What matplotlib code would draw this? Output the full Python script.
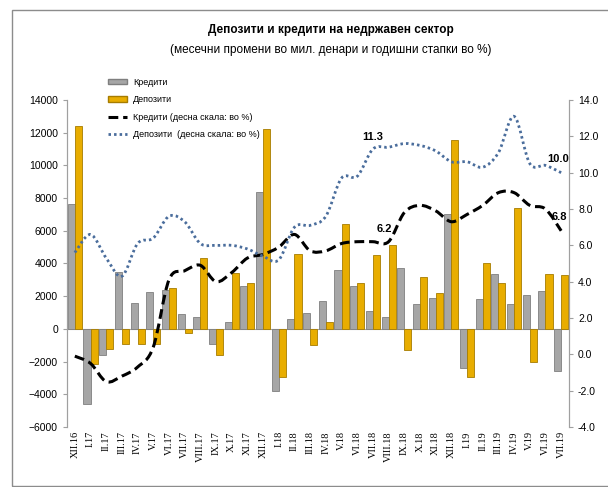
import matplotlib
matplotlib.use("Agg")
import matplotlib.pyplot as plt
import numpy as np
from matplotlib.patches import Patch, Rectangle, PathPatch
from matplotlib.lines import Line2D
from matplotlib.path import Path

plt.rcParams['font.family'] = ['Liberation Sans Narrow', 'Liberation Sans', 'DejaVu Sans']

months = ["XII.16", "I.17", "II.17", "III.17", "IV.17", "V.17", "VI.17", "VII.17",
          "VIII.17", "IX.17", "X.17", "XI.17", "XII.17", "I.18", "II.18", "III.18",
          "IV.18", "V.18", "VI.18", "VII.18", "VIII.18", "IX.18", "X.18", "XI.18",
          "XII.18", "I.19", "II.19", "III.19", "IV.19", "V.19", "VI.19", "VII.19"]

# monthly changes, mil. denars (left scale)
loans_chg = [7650, -4600, -1600, 3450, 1600, 2250, 2400, 900,
             700, -950, 450, 2650, 8350, -3800, 600, 950,
             1700, 3600, 2650, 1100, 700, 3700, 1550, 1900,
             7050, -2400, 1800, 3350, 1550, 2050, 2300, -2600]
deposits_chg = [12400, -2150, -1200, -900, -950, -900, 2500, -250,
                4350, -1600, 3400, 2800, 12200, -2950, 4600, -1000,
                450, 6400, 2800, 4500, 5150, -1300, 3150, 2200,
                11550, -2950, 4050, 2780, 7400, -2000, 3350, 3300]

# annual growth rates, % (right scale)
loans_yoy = [-0.1, -0.5, -1.5, -1.2, -0.7, 0.4, 4.1, 4.6,
             4.9, 4.0, 4.5, 5.3, 5.5, 5.9, 6.6, 5.7,
             5.7, 6.1, 6.2, 6.2, 6.2, 7.8, 8.2, 7.9,
             7.3, 7.7, 8.2, 8.9, 8.9, 8.2, 8.0, 6.8]
deposits_yoy = [5.6, 6.6, 5.3, 4.3, 6.1, 6.4, 7.6, 7.3,
                6.1, 6.0, 6.0, 5.8, 5.4, 5.2, 7.0, 7.1,
                7.6, 9.7, 9.8, 11.3, 11.4, 11.6, 11.5, 11.2,
                10.6, 10.6, 10.3, 11.1, 13.1, 10.5, 10.4, 10.0]

grey = "#a6a6a6"
gold = "#e8ad00"
blue = "#4a6d9c"
loan_dash = (0, (3.2, 1.6))
dep_dot = (0, (0.9, 1.1))


def smooth_path(xs, ys):
    # Excel-style smoothed line: bezier segments passing through the data points
    pts = np.column_stack([xs, ys]).astype(float)
    n = len(pts)
    verts = [pts[0]]
    codes = [Path.MOVETO]
    for i in range(n - 1):
        p0 = pts[max(i - 1, 0)]
        p1 = pts[i]
        p2 = pts[i + 1]
        p3 = pts[min(i + 2, n - 1)]
        verts += [p1 + (p2 - p0) / 6, p2 - (p3 - p1) / 6, p2]
        codes += [Path.CURVE4] * 3
    return Path(verts, codes)


fig = plt.figure(figsize=(6.08, 4.87), dpi=100)
ax = fig.add_axes([67 / 608, 1 - 427 / 487, 502 / 608, 327 / 487])
ax2 = ax.twinx()

x = np.arange(len(months))
w = 0.45
ax.bar(x - w / 2, loans_chg, w, color=grey, edgecolor="#7f7f7f", linewidth=0.6, zorder=2)
ax.bar(x + w / 2, deposits_chg, w, color=gold, edgecolor="#a67c00", linewidth=0.6, zorder=2)
ax.axhline(0, color="#a0a0a0", linewidth=0.8, zorder=1)

ax.set_xlim(-0.5, len(months) - 0.5)
ax.set_ylim(-6000, 14000)
ax.set_yticks(range(-6000, 14001, 2000))
ax.set_xticks(x)
ax.set_xticklabels(months, rotation=90, fontsize=7.5, family=['Liberation Serif', 'DejaVu Serif'])
ax.tick_params(axis='x', length=0, pad=3)
ax.tick_params(axis='y', labelsize=7.5, length=3, color="#a0a0a0")

ax2.add_patch(PathPatch(smooth_path(x, loans_yoy), fill=False, edgecolor="black",
                        linewidth=2.2, linestyle=loan_dash, zorder=3))
ax2.add_patch(PathPatch(smooth_path(x, deposits_yoy), fill=False, edgecolor=blue,
                        linewidth=2.0, linestyle=dep_dot, zorder=3))
ax2.set_ylim(-4, 14)
ax2.set_yticks(np.arange(-4, 14.1, 2))
ax2.set_yticklabels([f"{v:.1f}" for v in np.arange(-4, 14.1, 2)])
ax2.tick_params(axis='y', labelsize=7.5, length=3, color="#a0a0a0")

for a in (ax, ax2):
    a.spines['top'].set_visible(False)
    a.spines['bottom'].set_visible(False)
    a.spines['left'].set_color("#a0a0a0")
    a.spines['right'].set_color("#a0a0a0")

# data labels
lbl = dict(fontsize=8, fontweight="bold", ha="center", va="bottom")
ax2.text(19, deposits_yoy[19] + 0.4, f"{deposits_yoy[19]:.1f}", **lbl)
ax2.text(19.7, loans_yoy[20] + 0.4, f"{loans_yoy[20]:.1f}", **lbl)
ax2.text(30.8, deposits_yoy[31] + 0.5, f"{deposits_yoy[31]:.1f}", **lbl)
ax2.text(30.9, loans_yoy[31] + 0.5, f"{loans_yoy[31]:.1f}", **lbl)

fig.text(331 / 608, 1 - 30 / 487, "Депозити и кредити на недржавен сектор",
         ha="center", va="center", fontsize=8.5, fontweight="bold")
fig.text(331 / 608, 1 - 50 / 487, "(месечни промени во мил. денари и годишни стапки во %)",
         ha="center", va="center", fontsize=8.5)

handles = [Patch(facecolor=grey, edgecolor="#7f7f7f"),
           Patch(facecolor=gold, edgecolor="#a67c00"),
           Line2D([], [], color="black", linewidth=2.2, linestyle=loan_dash),
           Line2D([], [], color=blue, linewidth=2.0, linestyle=dep_dot)]
labels = ["Кредити", "Депозити", "Кредити (десна скала: во %)", "Депозити  (десна скала: во %)"]
fig.legend(handles, labels, loc="upper left", bbox_to_anchor=(104 / 608, 1 - 74 / 487),
           frameon=False, fontsize=6.5, handlelength=2.2, handleheight=0.6,
           labelspacing=0.95, handletextpad=0.6, borderaxespad=0)

fig.patches.append(Rectangle((12 / 608, 0.002), 1.2, 1 - 10 / 487 - 0.002, transform=fig.transFigure,
                             fill=False, edgecolor="#8c8c8c", linewidth=1.0))

fig.savefig("out.png", dpi=100)
